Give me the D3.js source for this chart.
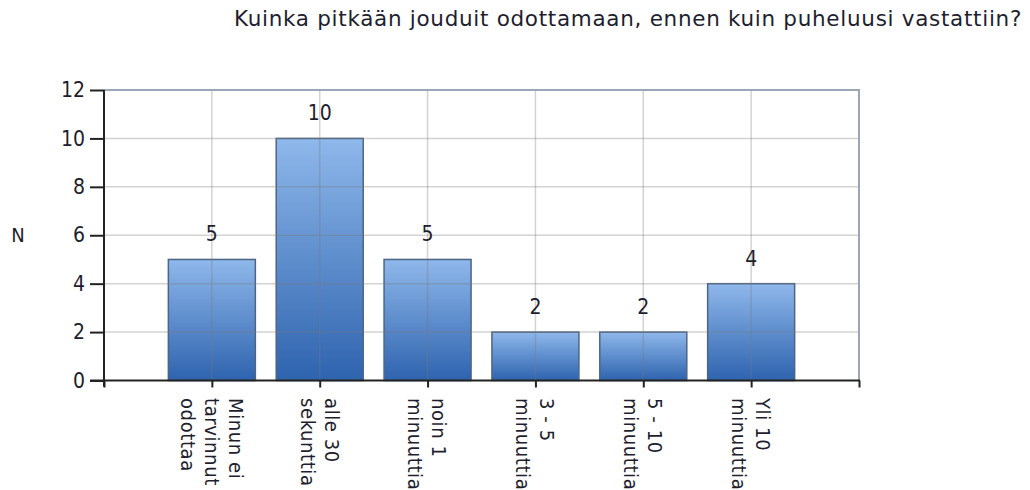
<!DOCTYPE html>
<html>
<head>
<meta charset="utf-8">
<script src="https://cdn.jsdelivr.net/npm/d3@7"></script>
<style>
  html, body { margin: 0; padding: 0; background: #fff; }
  svg { display: block; }
  text { font-family: "DejaVu Sans Condensed", "DejaVu Sans", sans-serif; fill: #1e1e2e; }
</style>
</head>
<body>
<script>
const title = "Kuinka pitkään jouduit odottamaan, ennen kuin puheluusi vastattiin?";
const categories = [
  ["Minun ei", "tarvinnut", "odottaa"],
  ["alle 30", "sekunttia"],
  ["noin 1", "minuuttia"],
  ["3 - 5", "minuuttia"],
  ["5 - 10", "minuuttia"],
  ["Yli 10", "minuuttia"]
];
const values = [5, 10, 5, 2, 2, 4];
const yTicks = [0, 2, 4, 6, 8, 10, 12];
const yLabel = "N";

const W = 1030, H = 490;
const svg = d3.select("body").append("svg").attr("width", W).attr("height", H);

const defs = svg.append("defs");
const grad = defs.append("linearGradient").attr("id", "barGrad")
  .attr("x1", 0).attr("y1", 0).attr("x2", 0).attr("y2", 1);
grad.append("stop").attr("offset", "0%").attr("stop-color", "#8fb8eb");
grad.append("stop").attr("offset", "100%").attr("stop-color", "#2e63ae");

const pL = 104, pR = 859, pT = 90, pB = 380.5;
const x = d3.scaleLinear().domain([0, categories.length + 1]).range([pL, pR]);
const y = d3.scaleLinear().domain([0, 12]).range([pB, pT]);
const barW = 87;

// title (fit to the reference's span)
const titleEl = svg.append("text").attr("x", 234).attr("y", 26)
  .style("font-family", "'DejaVu Sans', sans-serif")
  .style("font-size", "21.5px").text(title);
const natural = titleEl.node().getComputedTextLength();
const spacing = (1022 - 234 - natural) / title.length;
titleEl.style("letter-spacing", spacing + "px");

// y-axis label
svg.append("text").attr("x", 18).attr("y", y(6)).attr("dy", "0.36em")
  .attr("text-anchor", "middle").style("font-size", "20px").text(yLabel);

// bars
svg.append("g").selectAll("rect").data(values).join("rect")
  .attr("x", (d, i) => x(i + 1) - barW / 2)
  .attr("y", d => y(d))
  .attr("width", barW)
  .attr("height", d => y(0) - y(d))
  .attr("fill", "url(#barGrad)")
  .attr("stroke", "#4d6585").attr("stroke-width", 1.5);

// grid on top (semi-transparent)
const grid = svg.append("g").attr("stroke", "#7a7a7a").attr("stroke-opacity", 0.33).attr("stroke-width", 1.5);
grid.selectAll("line.h").data(yTicks.filter(v => v > 0 && v < 12)).join("line").attr("class", "h")
  .attr("x1", pL).attr("x2", pR).attr("y1", d => y(d)).attr("y2", d => y(d));
grid.selectAll("line.v").data(d3.range(1, categories.length + 1)).join("line").attr("class", "v")
  .attr("x1", d => x(d)).attr("x2", d => x(d)).attr("y1", pT).attr("y2", pB);

// border top & right
svg.append("path")
  .attr("d", `M${pL},${pT}H${pR}V${pB}`)
  .attr("fill", "none").attr("stroke", "#9ba6b6").attr("stroke-width", 2);

// value labels
svg.append("g").selectAll("text").data(values).join("text")
  .attr("x", (d, i) => x(i + 1)).attr("y", d => y(d) - 18)
  .attr("text-anchor", "middle").style("font-size", "21px").text(d => d);

// left axis
const yAxis = svg.append("g").attr("transform", `translate(${pL},0)`)
  .call(d3.axisLeft(y).tickValues(yTicks).tickSize(14).tickPadding(5).tickFormat(d3.format("d")));
yAxis.select(".domain").remove();
yAxis.selectAll(".tick line").attr("stroke", "#222").attr("stroke-width", 2);
yAxis.selectAll(".tick text").style("font-size", "21px").attr("fill", "#1e1e2e")
  .style("font-family", "'DejaVu Sans Condensed', 'DejaVu Sans', sans-serif");
svg.append("line").attr("x1", pL).attr("x2", pL).attr("y1", pT).attr("y2", pB + 6)
  .attr("stroke", "#222").attr("stroke-width", 2);

// bottom axis
const xAxis = svg.append("g").attr("transform", `translate(0,${pB})`)
  .call(d3.axisBottom(x).tickValues(d3.range(0, categories.length + 2)).tickSize(7).tickFormat(""));
xAxis.select(".domain").remove();
xAxis.selectAll(".tick line").attr("stroke", "#222").attr("stroke-width", 2);
svg.append("line").attr("x1", 90).attr("x2", pR + 1).attr("y1", pB).attr("y2", pB)
  .attr("stroke", "#222").attr("stroke-width", 2);

// category labels, rotated (first line nearest the right)
const lineH = 24;
const labels = svg.append("g").selectAll("text").data(categories).join("text")
  .attr("transform", (d, i) => `translate(${x(i + 1)},398) rotate(90)`)
  .style("font-size", "20px").style("letter-spacing", "0.6px");
labels.each(function(lines) {
  const n = lines.length;
  d3.select(this).selectAll("tspan").data(lines).join("tspan")
    .attr("x", 0)
    .attr("y", (l, j) => (j - (n - 1) / 2) * lineH)
    .attr("dy", "0.36em")
    .text(l => l);
});
</script>
</body>
</html>
